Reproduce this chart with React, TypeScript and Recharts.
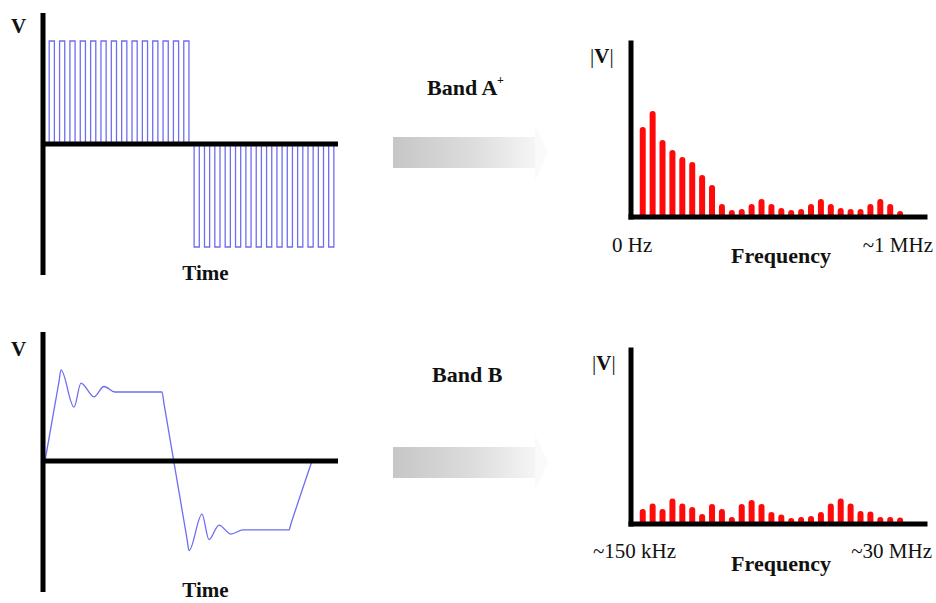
import React from 'react';
import { LineChart, Line, BarChart, Bar, XAxis, YAxis, ReferenceLine } from 'recharts';

// Band A+ time signal: level of each half-period slot (first slot precedes t = 0)
const pulseLevels = [
  0,
  1, 0, 1, 0, 1, 0, 1, 0, 1, 0, 1, 0, 1, 0,
  1, 0, 1, 0, 1, 0, 1, 0, 1, 0, 1, 0, 1, 0,
  -1, 0, -1, 0, -1, 0, -1, 0, -1, 0, -1, 0, -1, 0,
  -1, 0, -1, 0, -1, 0, -1, 0, -1, 0, -1, 0, -1, 0,
];

// Band B time signal (ringing trapezoid)
const ringTimes = [2, 16, 18, 31, 38, 51, 61, 72, 119, 121, 144, 146, 159, 166, 176, 188, 200, 246, 248, 269];
const ringVolts = [0, 1.15, 1.32, 0.78, 1.13, 0.93, 1.08, 1.0, 1.0, 0.83, -1.13, -1.3, -0.77, -1.14, -0.93, -1.06, -1.0, -1.0, -0.91, 0];

// Spectra: 27 harmonics each
const bandAMagnitudes = [90, 106, 77, 67, 60, 55, 42, 32, 13, 7, 8, 13, 18, 13, 9, 7, 8, 13, 18, 13, 9, 8, 8, 13, 18, 13, 6];
const bandBMagnitudes = [15, 20.5, 15, 25.5, 20.5, 17, 10, 20, 15, 7, 20, 24, 20, 12, 9.5, 6, 7, 8, 12, 20.5, 25.5, 20.5, 13, 12.5, 7, 7, 6.5];

const FONT = "'Liberation Serif', 'Times New Roman', serif";
const WAVE = '#6e6ef0';
const BAR = '#ff0a0a';

const pulseData = pulseLevels.map((v, i) => ({ t: i - 1, v }));
const ringData = ringTimes.map((t, i) => ({ t, v: ringVolts[i] }));
const specA = bandAMagnitudes.map((v, i) => ({ f: i, v }));
const specB = bandBMagnitudes.map((v, i) => ({ f: i, v }));

const M = { top: 5, right: 5, bottom: 5, left: 5 };
const AX = { stroke: '#000', strokeWidth: 5 };

function Spectrum({ data, left, top }: { data: { f: number; v: number }[]; left: number; top: number }) {
  const xd: [number, number] = [-1.18, 28.52];
  const yd: [number, number] = [0, 174];
  return (
    <div style={{ position: 'absolute', left, top }}>
      <BarChart width={304} height={184} data={data} margin={M}>
        <XAxis type="number" dataKey="f" domain={xd} hide allowDataOverflow />
        <YAxis type="number" domain={yd} hide allowDataOverflow />
        <Bar dataKey="v" fill={BAR} barSize={6} radius={[3, 3, 0, 0]} isAnimationActive={false} />
        <ReferenceLine segment={[{ x: xd[0], y: 0 }, { x: xd[0], y: yd[1] }]} {...AX} strokeLinecap="square" />
        <ReferenceLine segment={[{ x: xd[0], y: 0 }, { x: xd[1], y: 0 }]} {...AX} strokeLinecap="square" />
      </BarChart>
    </div>
  );
}

export default function App() {
  const pxd: [number, number] = [-1.2, 55.8];
  const pyd: [number, number] = [-1.272, 1.272];
  const rxd: [number, number] = [0, 295];
  const ryd: [number, number] = [-1.9, 1.87];
  const bold = { fontFamily: FONT, fontWeight: 700, fontSize: 21, fill: '#111' };
  const reg = { fontFamily: FONT, fontWeight: 400, fontSize: 21, fill: '#111' };
  return (
    <div style={{ position: 'absolute', left: 0, top: 0, width: 936, height: 603, background: '#fff', overflow: 'hidden' }}>
      <svg width={936} height={603} style={{ position: 'absolute', left: 0, top: 0 }}>
        <defs>
          <linearGradient id="arrowGrad" x1="0" x2="1" y1="0" y2="0">
            <stop offset="0" stopColor="#c6c6c6" />
            <stop offset="0.55" stopColor="#dcdcdc" />
            <stop offset="1" stopColor="#f5f5f5" />
          </linearGradient>
        </defs>
        <rect x={393} y={137} width={142} height={31} fill="url(#arrowGrad)" />
        <polygon points="535,124 548,152 535,181" fill="#fafafa" />
        <rect x={393} y={447} width={142} height={31} fill="url(#arrowGrad)" />
        <polygon points="535,434 548,462 535,491" fill="#fafafa" />

        <text x={18.5} y={33} textAnchor="middle" {...bold}>V</text>
        <text x={205.5} y={280} textAnchor="middle" {...bold}>Time</text>
        <text x={18.5} y={356} textAnchor="middle" {...bold}>V</text>
        <text x={205.5} y={597} textAnchor="middle" {...bold}>Time</text>

        <text x={427} y={95} {...bold} fontSize={22}>Band A</text>
        <text x={497} y={84} {...bold} fontSize={12}>+</text>
        <text x={432} y={382} {...bold} fontSize={22}>Band B</text>

        <text x={590} y={63} {...reg}>|<tspan fontWeight={700}>V</tspan>|</text>
        <text x={612} y={252} {...reg}>0 Hz</text>
        <text x={933} y={252} textAnchor="end" {...reg}>~1 MHz</text>
        <text x={781} y={263} textAnchor="middle" {...bold} fontSize={22}>Frequency</text>

        <text x={592} y={370} {...reg}>|<tspan fontWeight={700}>V</tspan>|</text>
        <text x={593} y={558} {...reg}>~150 kHz</text>
        <text x={932} y={558} textAnchor="end" {...reg}>~30 MHz</text>
        <text x={781} y={571} textAnchor="middle" {...bold} fontSize={22}>Frequency</text>
      </svg>

      <div style={{ position: 'absolute', left: 38, top: 8 }}>
        <LineChart width={305} height={272} data={pulseData} margin={M}>
          <XAxis type="number" dataKey="t" domain={pxd} hide allowDataOverflow />
          <YAxis type="number" domain={pyd} hide allowDataOverflow />
          <Line type="stepAfter" dataKey="v" stroke={WAVE} strokeWidth={1.3} dot={false} isAnimationActive={false} />
          <ReferenceLine segment={[{ x: pxd[0], y: pyd[0] }, { x: pxd[0], y: pyd[1] }]} {...AX} />
          <ReferenceLine segment={[{ x: pxd[0], y: 0 }, { x: pxd[1], y: 0 }]} {...AX} />
        </LineChart>
      </div>

      <div style={{ position: 'absolute', left: 38, top: 327 }}>
        <LineChart width={305} height={270} data={ringData} margin={M}>
          <XAxis type="number" dataKey="t" domain={rxd} hide allowDataOverflow />
          <YAxis type="number" domain={ryd} hide allowDataOverflow />
          <Line type="monotone" dataKey="v" stroke={WAVE} strokeWidth={1.3} dot={false} isAnimationActive={false} />
          <ReferenceLine segment={[{ x: rxd[0], y: ryd[0] }, { x: rxd[0], y: ryd[1] }]} {...AX} />
          <ReferenceLine segment={[{ x: rxd[0], y: 0 }, { x: rxd[1], y: 0 }]} {...AX} />
        </LineChart>
      </div>

      <Spectrum data={specA} left={626} top={38} />
      <Spectrum data={specB} left={626} top={345} />
    </div>
  );
}
